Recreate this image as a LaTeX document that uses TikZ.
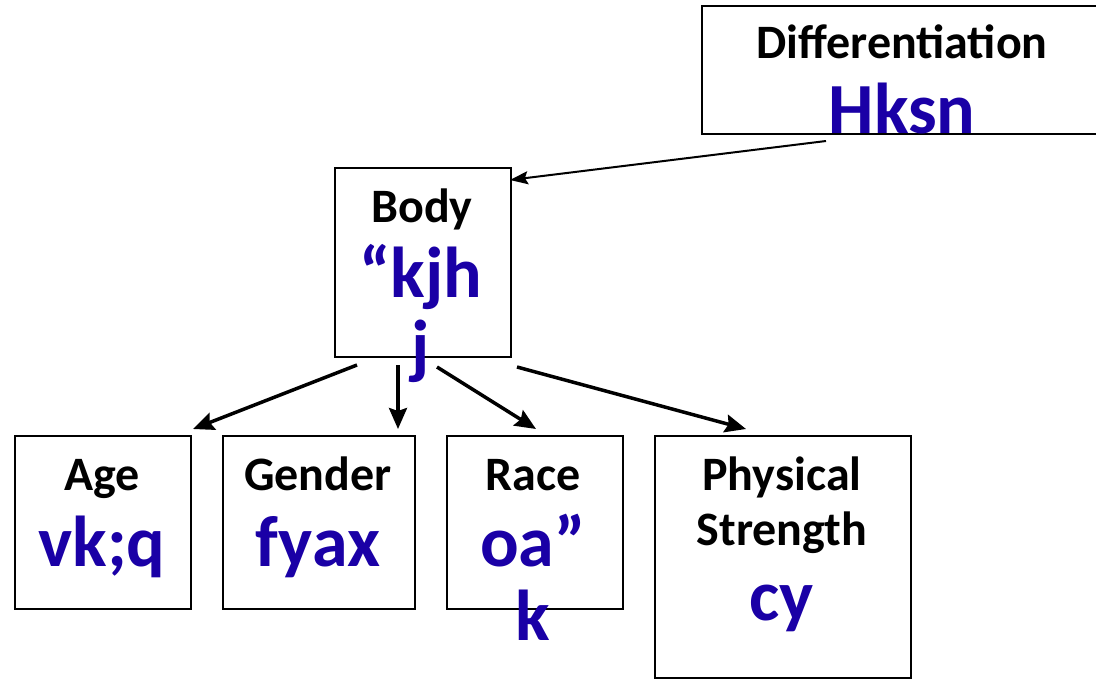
\documentclass[tikz,border=0pt]{standalone}
\usepackage{fontspec}
\setmainfont{Carlito}
\usetikzlibrary{arrows.meta,calc}
\definecolor{inkblue}{RGB}{26,0,166}
\tikzset{
  box/.style={draw=black, line width=2pt, fill=white, inner sep=0pt, anchor=north west},
  head/.style={anchor=base, inner sep=0pt, font=\fontsize{48}{52}\selectfont\bfseries, text=black},
  code/.style={anchor=base, inner sep=0pt, font=\fontsize{72}{80}\selectfont\bfseries, text=inkblue},
  link/.style={line width=3.5pt, -{Stealth[length=21pt, width=18pt, inset=3pt]}},
  thinlink/.style={line width=2pt, -{Stealth[length=18pt, width=13pt, inset=3pt]}}
}
\begin{document}
\begin{tikzpicture}[x=1pt, y=-1pt]
\useasboundingbox (0,0) rectangle (1096,678);

% boxes
\node[box, minimum width=395pt, minimum height=128pt] (diff) at (701,5) {};
\node[box, minimum width=176pt, minimum height=189pt] (body) at (334,167) {};
\node[box, minimum width=176pt, minimum height=173pt] (age) at (14,435) {};
\node[box, minimum width=192pt, minimum height=173pt] (gender) at (222,435) {};
\node[box, minimum width=176pt, minimum height=173pt] (race) at (446,435) {};
\node[box, minimum width=256pt, minimum height=242pt] (phys) at (654,435) {};

% labels
\node[head] (diffH) at (902,58) {Differentiation};
\node[code] (diffC) at (902,133) {Hksn};

\node[head] (bodyH) at (422,222) {Body};
\node[code] (bodyC1) at (421,297) {“kjh};
\node[code] (bodyC2) at (421,370) {j};

\node[head] (ageH) at (102,490) {Age};
\node[code] (ageC) at (102,566) {vk;q};

\node[head] (genH) at (318,490) {Gender};
\node[code] (genC) at (318,566) {fyax};

\node[head] (raceH) at (533,490) {Race};
\node[code] (raceC1) at (533,566) {oa”};
\node[code] (raceC2) at (533,640) {k};

\node[head] (physH1) at (782,490) {Physical};
\node[head] (physH2) at (782,545) {Strength};
\node[code] (physC) at (782,620) {cy};

% connector end points
\coordinate (dOut) at (826,141);
\coordinate (bIn) at (510,180);
\coordinate (b1) at (357,365);
\coordinate (b2) at (398,365);
\coordinate (b3) at (437,367);
\coordinate (b4) at (517,367);
\coordinate (aIn) at (193,429);
\coordinate (gIn) at (398,429);
\coordinate (rIn) at (536,429);
\coordinate (pIn) at (746,429);

% connectors
\draw[thinlink] (dOut) -- (bIn);
\draw[link] (b1) -- (aIn);
\draw[link] (b2) -- (gIn);
\draw[link] (b3) -- (rIn);
\draw[link] (b4) -- (pIn);
\end{tikzpicture}
\end{document}
